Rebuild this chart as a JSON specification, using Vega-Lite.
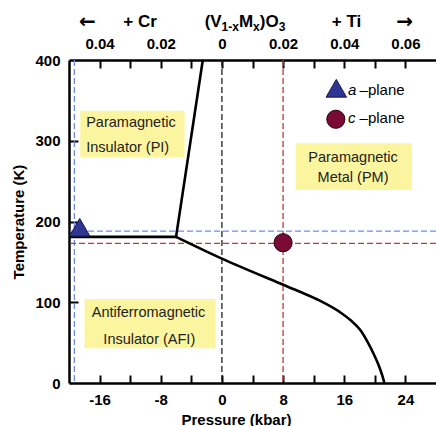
{
  "$schema": "https://vega.github.io/schema/vega-lite/v6.json",
  "width": 367,
  "height": 323,
  "autosize": {"type": "none"},
  "padding": {"left": 69, "top": 60, "right": 0, "bottom": 43},
  "background": "white",
  "config": {
    "view": {"stroke": null},
    "font": "Liberation Sans",
    "axis": {
      "domainColor": "black", "domainWidth": 2.5,
      "tickColor": "black", "tickWidth": 2,
      "labelFont": "Liberation Sans", "labelFontWeight": "bold", "labelFontSize": 15, "labelColor": "black",
      "titleFont": "Liberation Sans", "titleFontWeight": "bold", "titleFontSize": 15, "titleColor": "black",
      "grid": false
    }
  },
  "datasets": {
    "boxes": [
      {"p1": -18.53, "p2": -4.88, "t1": 279.5, "t2": 337},
      {"p1": 9.65, "p2": 24.87, "t1": 239, "t2": 296.8},
      {"p1": -17.97, "p2": -0.82, "t1": 43, "t2": 104}
    ],
    "vrules": [
      {"p": -19.3, "c": "blue"},
      {"p": 0, "c": "black"},
      {"p": 8, "c": "red"}
    ],
    "hrules": [
      {"t": 188, "c": "blue"},
      {"t": 173, "c": "red"}
    ],
    "upper": [
      {"p": -20, "t": 181, "o": 1},
      {"p": -6, "t": 181, "o": 2},
      {"p": -2.5, "t": 400, "o": 3}
    ],
    "curve": [
      {"p": -6, "t": 181},
      {"p": 0, "t": 154},
      {"p": 7.55, "t": 123.5},
      {"p": 10.2, "t": 113},
      {"p": 12.8, "t": 102},
      {"p": 15.4, "t": 88},
      {"p": 16.8, "t": 78},
      {"p": 18.1, "t": 65.6},
      {"p": 19.1, "t": 50},
      {"p": 19.9, "t": 35},
      {"p": 20.5, "t": 22},
      {"p": 20.95, "t": 10},
      {"p": 21.25, "t": 0}
    ],
    "leftText": [
      {"p": -17.75, "t": 321.6, "text": "Paramagnetic"},
      {"p": -17.75, "t": 291.4, "text": "Insulator (PI)"}
    ],
    "centerText": [
      {"p": 17.15, "t": 279, "text": "Paramagnetic"},
      {"p": 17.15, "t": 254.2, "text": "Metal (PM)"},
      {"p": -9.6, "t": 87, "text": "Antiferromagnetic"},
      {"p": -9.5, "t": 53.3, "text": "Insulator (AFI)"}
    ],
    "header": [
      {"p": -10.7, "t": 447, "text": "+ Cr"},
      {"p": 16.3, "t": 447, "text": "+ Ti"}
    ],
    "arrows": [
      {"p": -17.6, "t": 447.5, "text": "←"},
      {"p": 23.9, "t": 447.5, "text": "→"}
    ],
    "formulaMain": [
      {"p": -2.26, "t": 447, "text": "(V"},
      {"p": 2.22, "t": 447, "text": "M"},
      {"p": 4.96, "t": 447, "text": ")O"}
    ],
    "formulaSub": [
      {"p": -0.04, "t": 440.5, "text": "1-x"},
      {"p": 4.08, "t": 440.5, "text": "x"},
      {"p": 7.43, "t": 440.5, "text": "3"}
    ],
    "legItalic": [
      {"p": 16.5, "t": 362.8, "text": "a"},
      {"p": 16.5, "t": 327.8, "text": "c"}
    ],
    "legPlain": [
      {"p": 18.0, "t": 362.8, "text": "–plane"},
      {"p": 18.0, "t": 327.8, "text": "–plane"}
    ],
    "triangles": [
      {"p": -18.6, "t": 192.8, "plane": "a"},
      {"p": 14.96, "t": 365, "plane": "a"}
    ],
    "circles": [
      {"p": 8, "t": 173.7, "plane": "c"},
      {"p": 14.9, "t": 326.6, "plane": "c"}
    ]
  },
  "layer": [
    {
      "data": {"name": "boxes"},
      "mark": {"type": "rect", "fill": "#fbf5a0"},
      "encoding": {
        "x": {"field": "p1", "type": "quantitative",
          "scale": {"domain": [-20, 28], "nice": false, "zero": false},
          "axis": {"orient": "bottom", "values": [-16, -8, 0, 8, 16, 24], "ticks": false,
            "labelExpr": "datum.value < 0 ? '-' + abs(datum.value) : '' + datum.value",
            "labelPadding": 9, "title": "Pressure (kbar)", "titleX": 167, "titleY": 36,
            "titleAlign": "center", "titleBaseline": "middle"}},
        "x2": {"field": "p2"},
        "y": {"field": "t1", "type": "quantitative",
          "scale": {"domain": [0, 400], "nice": false, "zero": false},
          "axis": {"values": [0, 100, 200, 300, 400], "ticks": false, "labelPadding": 9,
            "title": "Temperature (K)", "titleX": -51, "titleY": 161.5, "titleAngle": -90,
            "titleAlign": "center", "titleBaseline": "middle"}},
        "y2": {"field": "t2"}
      }
    },
    {
      "data": {"name": "vrules"},
      "mark": {"type": "rule", "strokeDash": [6, 3], "strokeWidth": 1.3},
      "encoding": {
        "x": {"field": "p", "type": "quantitative",
          "axis": {"orient": "top", "values": [-16, -8, 0, 8, 16, 24], "ticks": false,
            "labelExpr": "datum.value === 0 ? '0' : format(abs(datum.value) / 400, '.2f')",
            "labelPadding": 9, "title": null}},
        "color": {"field": "c", "type": "nominal",
          "scale": {"domain": ["blue", "black", "red"], "range": ["#6d8de8", "#222222", "#c0393b"]},
          "legend": null}
      }
    },
    {
      "data": {"name": "hrules"},
      "mark": {"type": "rule", "strokeDash": [6, 3], "strokeWidth": 1.3},
      "encoding": {
        "y": {"field": "t", "type": "quantitative", "axis": null},
        "color": {"field": "c", "type": "nominal", "legend": null}
      }
    },
    {
      "data": {"name": "upper"},
      "mark": {"type": "line", "color": "black", "strokeWidth": 2.6},
      "encoding": {
        "x": {"field": "p", "type": "quantitative",
          "axis": {"orient": "bottom", "offset": -8, "tickSize": 8, "domain": false, "labels": false, "title": null,
            "values": [-16, -12, -8, -4, 0, 4, 8, 12, 16, 20, 24]}},
        "y": {"field": "t", "type": "quantitative",
          "axis": {"orient": "left", "offset": -9, "tickSize": 9, "domain": false, "labels": false, "title": null,
            "values": [100, 200, 300]}},
        "order": {"field": "o"}
      }
    },
    {
      "data": {"name": "curve"},
      "mark": {"type": "line", "color": "black", "strokeWidth": 2.6, "interpolate": "monotone"},
      "encoding": {
        "x": {"field": "p", "type": "quantitative",
          "axis": {"orient": "top", "offset": -8, "tickSize": 8, "domain": false, "labels": false, "title": null,
            "values": [-16, -12, -8, -4, 0, 4, 8, 12, 16, 20, 24]}},
        "y": {"field": "t", "type": "quantitative", "axis": null}
      }
    },
    {
      "data": {"name": "leftText"},
      "mark": {"type": "text", "align": "left", "baseline": "middle", "fontSize": 14.5, "color": "#222222", "font": "Liberation Sans"},
      "encoding": {
        "x": {"field": "p", "type": "quantitative", "axis": null},
        "y": {"field": "t", "type": "quantitative", "axis": null},
        "text": {"field": "text"}
      }
    },
    {
      "data": {"name": "centerText"},
      "mark": {"type": "text", "align": "center", "baseline": "middle", "fontSize": 14.5, "color": "#222222", "font": "Liberation Sans"},
      "encoding": {
        "x": {"field": "p", "type": "quantitative", "axis": null},
        "y": {"field": "t", "type": "quantitative", "axis": null},
        "text": {"field": "text"}
      }
    },
    {
      "data": {"name": "header"},
      "mark": {"type": "text", "align": "center", "baseline": "middle", "fontSize": 17, "fontWeight": "bold", "color": "black", "font": "Liberation Sans"},
      "encoding": {
        "x": {"field": "p", "type": "quantitative", "axis": null},
        "y": {"field": "t", "type": "quantitative", "axis": null},
        "text": {"field": "text"}
      }
    },
    {
      "data": {"name": "arrows"},
      "mark": {"type": "text", "align": "center", "baseline": "middle", "fontSize": 20, "fontWeight": "bold", "color": "black", "font": "DejaVu Sans"},
      "encoding": {
        "x": {"field": "p", "type": "quantitative", "axis": null},
        "y": {"field": "t", "type": "quantitative", "axis": null},
        "text": {"field": "text"}
      }
    },
    {
      "data": {"name": "formulaMain"},
      "mark": {"type": "text", "align": "left", "baseline": "middle", "fontSize": 17, "fontWeight": "bold", "color": "black", "font": "Liberation Sans"},
      "encoding": {
        "x": {"field": "p", "type": "quantitative", "axis": null},
        "y": {"field": "t", "type": "quantitative", "axis": null},
        "text": {"field": "text"}
      }
    },
    {
      "data": {"name": "formulaSub"},
      "mark": {"type": "text", "align": "left", "baseline": "middle", "fontSize": 12, "fontWeight": "bold", "color": "black", "font": "Liberation Sans"},
      "encoding": {
        "x": {"field": "p", "type": "quantitative", "axis": null},
        "y": {"field": "t", "type": "quantitative", "axis": null},
        "text": {"field": "text"}
      }
    },
    {
      "data": {"name": "legItalic"},
      "mark": {"type": "text", "align": "left", "baseline": "middle", "fontSize": 15, "fontStyle": "italic", "color": "black", "font": "Liberation Sans"},
      "encoding": {
        "x": {"field": "p", "type": "quantitative", "axis": null},
        "y": {"field": "t", "type": "quantitative", "axis": null},
        "text": {"field": "text"}
      }
    },
    {
      "data": {"name": "legPlain"},
      "mark": {"type": "text", "align": "left", "baseline": "middle", "fontSize": 15, "color": "black", "font": "Liberation Sans"},
      "encoding": {
        "x": {"field": "p", "type": "quantitative", "axis": null},
        "y": {"field": "t", "type": "quantitative", "axis": null},
        "text": {"field": "text"}
      }
    },
    {
      "data": {"name": "triangles"},
      "mark": {"type": "point", "shape": "triangle-up", "size": 420, "filled": true, "fill": "#2f3592", "stroke": "#15154a", "strokeWidth": 1, "opacity": 1},
      "encoding": {
        "x": {"field": "p", "type": "quantitative", "axis": null},
        "y": {"field": "t", "type": "quantitative", "axis": null}
      }
    },
    {
      "data": {"name": "circles"},
      "mark": {"type": "point", "shape": "circle", "size": 330, "filled": true, "fill": "#7a0a33", "stroke": "#2a0010", "strokeWidth": 1, "opacity": 1},
      "encoding": {
        "x": {"field": "p", "type": "quantitative", "axis": null},
        "y": {"field": "t", "type": "quantitative", "axis": null}
      }
    }
  ],
  "resolve": {"axis": {"x": "independent", "y": "independent"}}
}
